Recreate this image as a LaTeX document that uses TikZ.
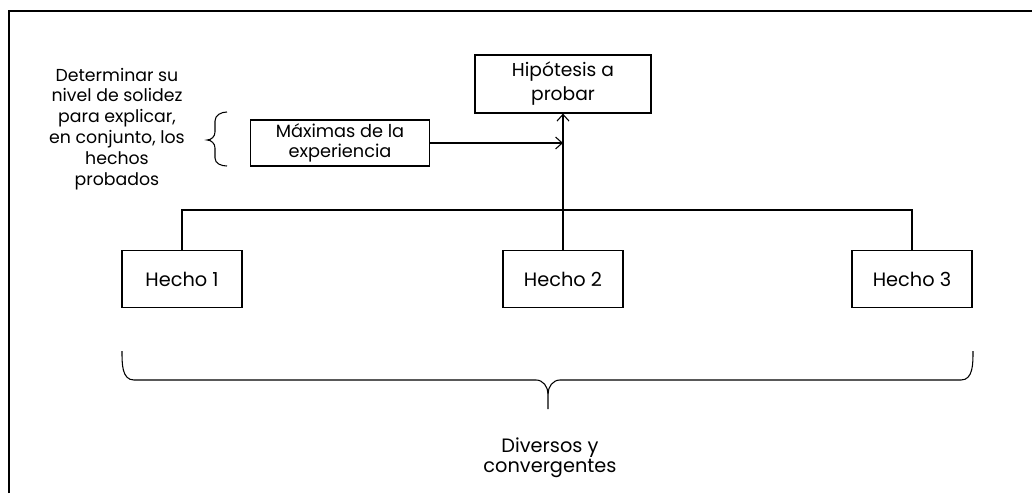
\documentclass[tikz,border=0pt]{standalone}
\usepackage{fontspec}
\setmainfont{Poppins}
\usetikzlibrary{arrows.meta}

\tikzset{
  caja/.style={draw, line width=0.9pt, align=center, inner sep=2pt},
  hecho/.style={caja, minimum width=90pt, minimum height=43pt, font=\fontsize{14.5}{17}\selectfont},
  flecha/.style={-{Straight Barb[length=5pt,width=9pt]}, line width=0.8pt},
  linea/.style={line width=0.8pt},
}

\begin{document}
\begin{tikzpicture}[x=0.75pt,y=-0.75pt,font=\fontsize{13}{15.7}\selectfont]
\useasboundingbox (0,0) rectangle (1032,493);

% Marco
  \draw[line width=1.3pt] (9,493) -- (9,11) -- (1032,11);

% Cajas
  \node[caja, minimum width=132pt, minimum height=43.5pt, font=\fontsize{14}{18}\selectfont] (hip) at (563,84) {Hipótesis a\\probar};
  \node[caja, minimum width=134pt, minimum height=34.5pt, font=\fontsize{13.3}{15}\selectfont] (max) at (340,143) {Máximas de la\\experiencia};
  \node[hecho] (h1) at (182,279) {Hecho 1};
  \node[hecho] (h2) at (563,279) {Hecho 2};
  \node[hecho] (h3) at (912,279) {Hecho 3};

% Textos
  \node[align=center] (solidez) at (117,129) {Determinar su\\nivel de solidez\\para explicar,\\en conjunto, los\\hechos\\probados};
  \node[align=center, font=\fontsize{14.5}{15}\selectfont] (diversos) at (550,458) {Diversos y\\convergentes};

% Conectores
  \coordinate (cruce) at (hip.south |- max.east);
  \coordinate (barra) at (0,210);
  \draw[flecha] (max.east) -- (cruce);
  \draw[flecha] (h2.north) -- (hip.south);
  \draw[linea] (h1.north) -- (h1.north |- barra) -- (h3.north |- barra) -- (h3.north);

% Llaves
  \draw[linea] (227,112) to[out=180,in=90] (215,121) -- (215,132) to[out=-90,in=0] (207,140)
               to[out=0,in=90] (215,148) -- (215,158) to[out=-90,in=180] (227,166);
  \draw[linea] (122,351) to[out=-90,in=180] (134,380) -- (536,380) to[out=0,in=90] (548,394) -- (548,409);
  \draw[linea] (973,351) to[out=-90,in=0] (961,380) -- (560,380) to[out=180,in=90] (548,394);

\end{tikzpicture}
\end{document}
